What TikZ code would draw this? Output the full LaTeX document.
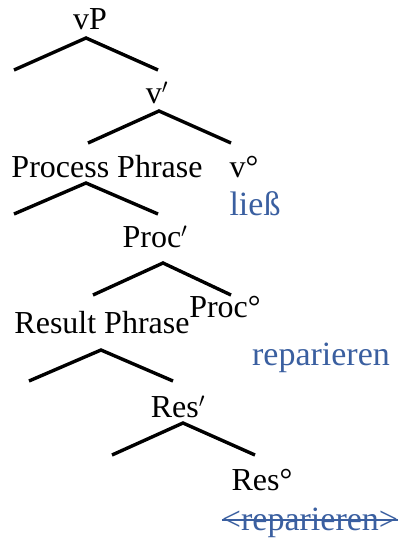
\documentclass[tikz,border=0pt]{standalone}
\usepackage{fontspec}
\setmainfont{Liberation Serif}
\definecolor{TreeInk}{gray}{0.0}
\definecolor{TreeWord}{RGB}{58,95,160}
\tikzset{
    tree/diagram/.style={
        draw=TreeInk,
        text=TreeInk,
        line cap=butt,
        line join=miter,
        every node/.style={inner sep=0pt, outer sep=0pt}
    },
    tree/branch/.style={draw=TreeInk, line width=3.4pt},
    tree/label/.style={anchor=base, font=\fontsize{32}{38}\selectfont},
    tree/word/.style={tree/label, text=TreeWord, font=\fontsize{34}{40}\selectfont},
    tree/strike/.style={draw=TreeWord, line width=1.4pt}
}

\begin{document}
\begin{tikzpicture}[tree/diagram, x=1pt, y=-1pt]
    \useasboundingbox (0,0) rectangle (409,543);

    % vP
    \node[tree/label] (vp) at (90,30) {vP};
    \coordinate (vp-top) at (86,38);
    \draw[tree/branch] (vp-top) ++(-72,32) -- (vp-top) -- ++(72,32);

    % v'
    \node[tree/label] (vbar) at (157,103) {v$'$};
    \coordinate (vbar-top) at (159,111);
    \draw[tree/branch] (vbar-top) ++(-71,32) -- (vbar-top) -- ++(72,32);
    \node[tree/label] (procp) at (107,177) {Process Phrase};
    \node[tree/label] (vhead) at (244,177) {v°};
    \node[tree/word] (liess) at (255,215) {ließ};

    % Process Phrase
    \coordinate (procp-top) at (86,183);
    \draw[tree/branch] (procp-top) ++(-72,31) -- (procp-top) -- ++(72,31);
    \node[tree/label] (procbar) at (155,247) {Proc$'$};

    % Proc'
    \coordinate (procbar-top) at (163,263);
    \draw[tree/branch] (procbar-top) ++(-70,32) -- (procbar-top) -- ++(68,32);
    \node[tree/label] (resp) at (102,333) {Result Phrase};
    \node[tree/label] (prochead) at (225,317) {Proc°};
    \node[tree/word] (rep) at (321,365) {reparieren};

    % Result Phrase
    \coordinate (resp-top) at (101,350);
    \draw[tree/branch] (resp-top) ++(-72,31) -- (resp-top) -- ++(72,31);
    \node[tree/label] (resbar) at (178,417) {Res$'$};

    % Res'
    \coordinate (resbar-top) at (183,423);
    \draw[tree/branch] (resbar-top) ++(-71,32) -- (resbar-top) -- ++(72,32);
    \node[tree/label] (reshead) at (262,490) {Res°};
    \node[tree/word] (trace) at (310,530) {<reparieren>};
    \draw[tree/strike] ([yshift=10pt]trace.base west) -- ([yshift=10pt]trace.base east);
\end{tikzpicture}
\end{document}
